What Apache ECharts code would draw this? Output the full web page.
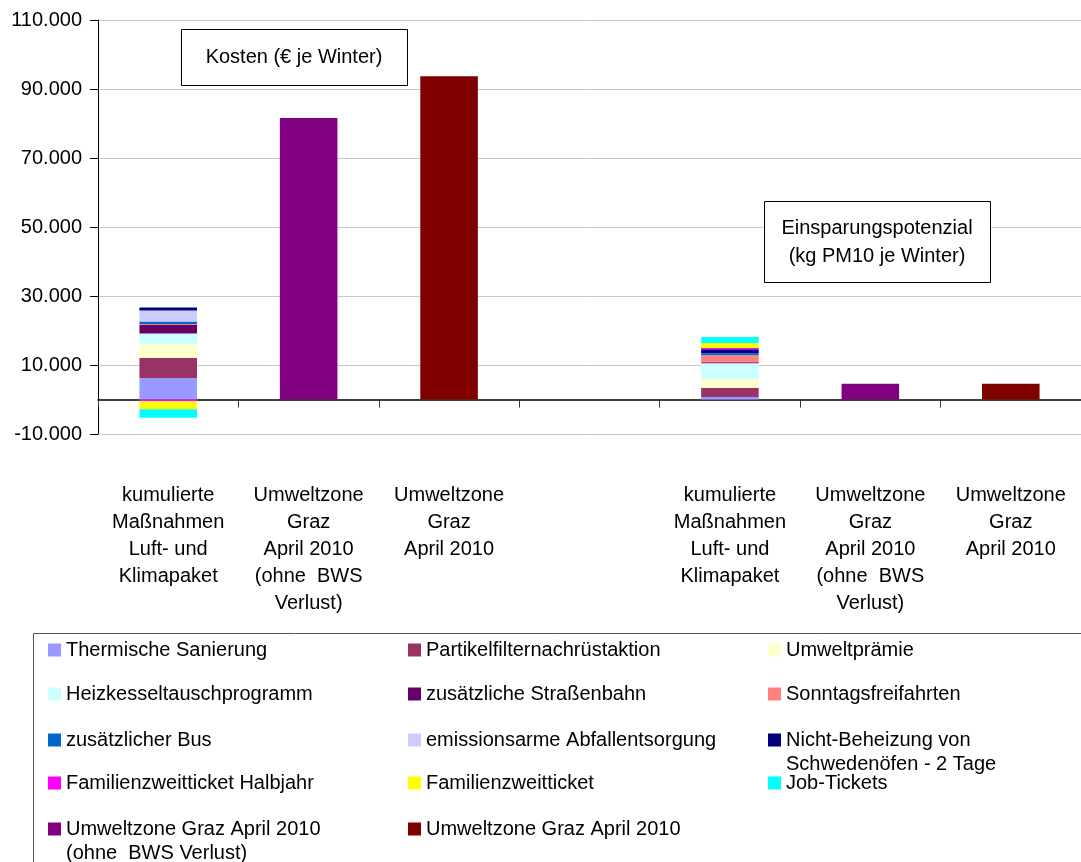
<!DOCTYPE html>
<html>
<head>
<meta charset="utf-8">
<script src="https://cdn.jsdelivr.net/npm/echarts@6/dist/echarts.min.js"></script>
<style>
html,body{margin:0;padding:0;background:#fff;}
#c{width:1081px;height:862px;}
</style>
</head>
<body>
<div id="c"></div>
<script>
// ---- data ----
const categories = [
  'kumulierte\nMaßnahmen\nLuft- und\nKlimapaket',
  'Umweltzone\nGraz\nApril 2010\n(ohne  BWS\nVerlust)',
  'Umweltzone\nGraz\nApril 2010',
  '',
  'kumulierte\nMaßnahmen\nLuft- und\nKlimapaket',
  'Umweltzone\nGraz\nApril 2010\n(ohne  BWS\nVerlust)',
  'Umweltzone\nGraz\nApril 2010'
];
const seriesNames = [
  'Thermische Sanierung',
  'Partikelfilternachrüstaktion',
  'Umweltprämie',
  'Heizkesseltauschprogramm',
  'zusätzliche Straßenbahn',
  'Sonntagsfreifahrten',
  'zusätzlicher Bus',
  'emissionsarme Abfallentsorgung',
  'Nicht-Beheizung von Schwedenöfen - 2 Tage',
  'Familienzweitticket Halbjahr',
  'Familienzweitticket',
  'Job-Tickets',
  'Umweltzone Graz April 2010 (ohne  BWS Verlust)',
  'Umweltzone Graz April 2010'
];
const legendLabels = {
  'Nicht-Beheizung von Schwedenöfen - 2 Tage': 'Nicht-Beheizung von\nSchwedenöfen - 2 Tage',
  'Umweltzone Graz April 2010 (ohne  BWS Verlust)': 'Umweltzone Graz April 2010\n(ohne  BWS Verlust)'
};
const seriesColors = ['#9999FF','#993366','#FFFFCC','#CCFFFF','#660066','#FF8080','#0066CC','#CCCCFF','#000080','#FF00FF','#FFFF00','#00FFFF','#800080','#800000'];
// values per category (index 0..6)
const thermische        = [6200, null, null, null, 700, null, null];
const partikelfilter    = [5800, null, null, null, 2600, null, null];
const umweltpraemie     = [4000, null, null, null, 2600, null, null];
const heizkessel        = [3100, null, null, null, 4600, null, null];
const strassenbahn      = [2500, null, null, null, 300, null, null];
const sonntags          = [300, null, null, null, 2000, null, null];
const bus               = [700, null, null, null, 600, null, null];
const abfall            = [3200, null, null, null, 0, null, null];
const schwedenoefen     = [900, null, null, null, 1200, null, null];
const famHalbjahr       = [-500, null, null, null, 300, null, null];
const famZweit          = [-2300, null, null, null, 1500, null, null];
const jobTickets        = [-2500, null, null, null, 1700, null, null];
const umweltzoneOhne    = [null, 81600, null, null, null, 4600, null];
const umweltzone        = [null, null, 93700, null, null, null, 4600];
const seriesValues = [thermische, partikelfilter, umweltpraemie, heizkessel, strassenbahn, sonntags, bus, abfall, schwedenoefen, famHalbjahr, famZweit, jobTickets, umweltzoneOhne, umweltzone];
const yTicks = [-10000, 10000, 30000, 50000, 70000, 90000, 110000];

// ---- chart ----
const FONT = '"Liberation Sans", Arial, sans-serif';
function fmt(v){
  const s = Math.abs(v).toString().replace(/\B(?=(\d{3})+(?!\d))/g, '.');
  return (v < 0 ? '-' : '') + s;
}
const chart = echarts.init(document.getElementById('c'), null, {renderer: 'canvas'});

const series = seriesNames.map((n, i) => ({
  name: n,
  type: 'bar',
  stack: 'all',
  xAxisIndex: 0,
  barWidth: '41%',
  data: seriesValues[i],
  itemStyle: {color: seriesColors[i]},
  emphasis: {disabled: true},
  animation: false
}));

// legends: one per item, laid out in 3 columns
const colLeft = [48, 408, 768];
const rowCenter = [650, 694, 740, 783, 829];
const LH = 24;
const legends = seriesNames.map((n, i) => {
  const col = i % 3, row = Math.floor(i / 3);
  const multi = !!legendLabels[n];
  return {
    data: [n],
    left: colLeft[col],
    top: rowCenter[row] - (multi ? 1.5 * LH : LH / 2),
    padding: 0,
    itemWidth: 13,
    itemHeight: 13,
    selectedMode: false,
    icon: 'rect',
    // a leading blank line keeps the first text line level with the icon
    formatter: name => legendLabels[name] ? ' \n' + legendLabels[name] : name,
    textStyle: {fontFamily: FONT, fontSize: 20, color: '#000', lineHeight: LH}
  };
});

chart.setOption({
  animation: false,
  backgroundColor: '#fff',
  grid: {left: 98, top: 20, width: 990, height: 414, containLabel: false},
  xAxis: [
    {
      type: 'category', data: categories, position: 'bottom',
      axisLine: {onZero: true, lineStyle: {color: '#000', width: 1.5}},
      axisTick: {show: true, length: 8, lineStyle: {color: '#333'}},
      axisLabel: {show: false},
      splitLine: {show: false}
    },
    {
      type: 'category', data: categories, position: 'bottom',
      axisLine: {show: false, onZero: false},
      axisTick: {show: false},
      axisLabel: {show: true, interval: 0, margin: 48, fontFamily: FONT, fontSize: 20, lineHeight: 27, color: '#000'},
      splitLine: {show: false}
    }
  ],
  yAxis: {
    type: 'value', min: -10000, max: 110000, interval: 10000,
    axisLine: {show: true, lineStyle: {color: '#000', width: 1}},
    axisTick: {show: true, length: 8, customValues: yTicks, lineStyle: {color: '#000'}},
    axisLabel: {customValues: yTicks, formatter: v => fmt(v), margin: 16, fontFamily: FONT, fontSize: 20, color: '#000'},
    splitLine: {show: true, lineStyle: {color: '#c8c8c8', width: 1}}
  },
  legend: legends,
  series: series,
  graphic: [
    {type: 'rect', z: 1, shape: {x: 33.5, y: 633.5, width: 1100, height: 400}, style: {fill: 'none', stroke: '#555', lineWidth: 1}},
    {type: 'rect', z: 100, shape: {x: 181.5, y: 29.5, width: 226, height: 56}, style: {fill: '#fff', stroke: '#000', lineWidth: 1}},
    {type: 'text', z: 101, x: 294, y: 57, style: {text: 'Kosten (€ je Winter)', font: '20px ' + FONT, fill: '#000', align: 'center', verticalAlign: 'middle'}},
    {type: 'rect', z: 100, shape: {x: 764.5, y: 201.5, width: 226, height: 81}, style: {fill: '#fff', stroke: '#000', lineWidth: 1}},
    {type: 'text', z: 101, x: 877, y: 242, style: {text: 'Einsparungspotenzial\n(kg PM10 je Winter)', font: '20px ' + FONT, lineHeight: 28, fill: '#000', align: 'center', verticalAlign: 'middle'}}
  ]
});
</script>
</body>
</html>
